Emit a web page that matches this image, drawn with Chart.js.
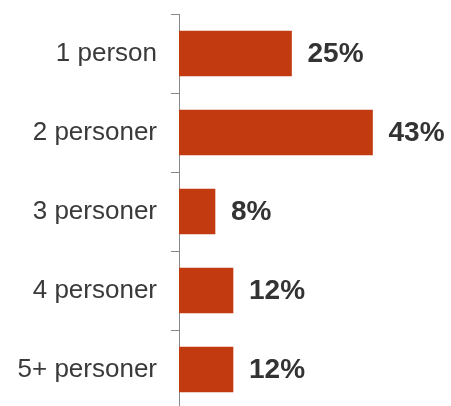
<!DOCTYPE html>
<html>
<head>
<meta charset="utf-8">
<script src="https://cdn.jsdelivr.net/npm/chart.js@4"></script>
<style>
  html, body { margin: 0; padding: 0; background: #fff; }
  .wrap { width: 451px; height: 406px; overflow: hidden; }
</style>
</head>
<body>
<div class="wrap"><canvas id="chart" width="451" height="410"></canvas></div>
<script>
const categories = ['1 person', '2 personer', '3 personer', '4 personer', '5+ personer'];
const shares = [25, 43, 8, 12, 12];

// value labels to the right of each bar
const valueLabels = {
  id: 'valueLabels',
  afterDatasetsDraw(chart) {
    const { ctx } = chart;
    const meta = chart.getDatasetMeta(0);
    ctx.save();
    ctx.font = 'bold 28px "Liberation Sans", Arial, sans-serif';
    ctx.fillStyle = '#333333';
    ctx.textAlign = 'left';
    ctx.textBaseline = 'middle';
    meta.data.forEach((bar, i) => {
      ctx.fillText(shares[i] + '%', bar.x + 16, bar.y + 1);
    });
    ctx.restore();
  }
};

new Chart(document.getElementById('chart'), {
  type: 'bar',
  data: {
    labels: categories,
    datasets: [{
      data: shares,
      backgroundColor: '#C23B10',
      borderWidth: 0,
      barThickness: 45
    }]
  },
  options: {
    indexAxis: 'y',
    responsive: false,
    animation: false,
    layout: { padding: { top: 14, right: 2, bottom: 1, left: 0 } },
    plugins: {
      legend: { display: false },
      tooltip: { enabled: false }
    },
    scales: {
      x: {
        display: false,
        min: 0,
        max: 60
      },
      y: {
        afterFit(scale) {
          scale.width = 179;
          scale.paddingTop = 0;
          scale.paddingBottom = 0;
        },
        border: { display: true, color: '#888888', width: 1 },
        grid: {
          drawOnChartArea: false,
          drawTicks: true,
          tickLength: 8,
          color: '#888888',
          offset: true
        },
        ticks: {
          padding: 14,
          color: '#3a3a3a',
          font: { family: '"Liberation Sans", Arial, sans-serif', size: 26 }
        }
      }
    }
  },
  plugins: [valueLabels]
});
</script>
</body>
</html>
